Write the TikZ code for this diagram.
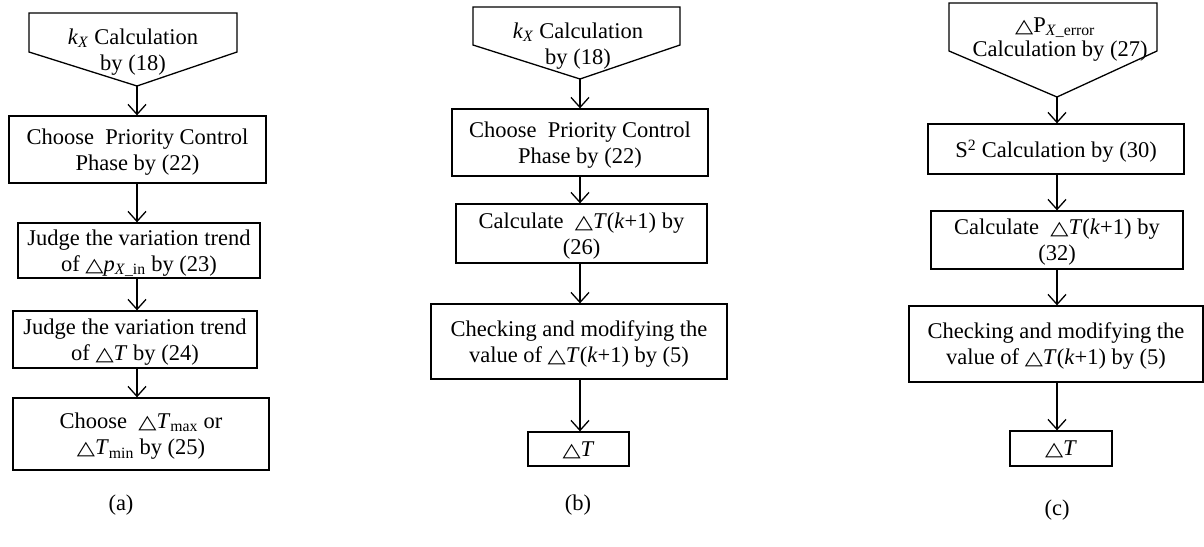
\documentclass[tikz,border=0pt]{standalone}
\usepackage{fontspec}
\setmainfont{Liberation Serif}
\newfontfamily\symfont{DejaVu Sans}
\usetikzlibrary{arrows.meta}
\newcommand{\tri}{{\symfont\scalebox{1.05}[0.85]{△}}}
\begin{document}
\begin{tikzpicture}[x=1pt,y=-1pt,
  every node/.style={font=\fontsize{22.5}{26}\selectfont},
  stepbox/.style={draw, line width=1.3pt, align=center, inner sep=0pt, text depth=0pt},
  pent/.style={draw, line width=1.3pt, line join=miter},
  arr/.style={line width=1.3pt, -{Straight Barb[length=10pt,width=18pt]}}]
\useasboundingbox (0,0) rectangle (1204,546);

% ---------- panel (a)
\draw[pent] (29,13) -- (237,13) -- (237,52) -- (137,86) -- (29,52) -- cycle;
\coordinate (pa) at (137,86);
\node[align=center] (pat) at (133,52) {\textit{k}\textsubscript{\textit{X}} Calculation\\by (18)};
\node[stepbox, minimum width=257pt, minimum height=67pt] (a1) at (137.5,149.5) {Choose\ \ Priority Control\\Phase by (22)};
\node[stepbox, minimum width=242pt, minimum height=55pt] (a2) at (139,250.5) {Judge the variation trend\\of \tri\textit{p}\textsubscript{\textit{X}\_in} by (23)};
\node[stepbox, minimum width=244pt, minimum height=57pt] (a3) at (135,339.5) {Judge the variation trend\\of \tri\textit{T} by (24)};
\node[stepbox, minimum width=256pt, minimum height=72pt] (a4) at (141,434) {Choose\ \ \tri\textit{T}\textsubscript{max} or\\\tri\textit{T}\textsubscript{min} by (25)};
\node (la) at (121,505) {(a)};
\draw[arr] (pa) -- (a1.north -| pa);
\draw[arr] (a1.south -| pa) -- (a2.north -| pa);
\draw[arr] (a2.south -| pa) -- (a3.north -| pa);
\draw[arr] (a3.south -| pa) -- (a4.north -| pa);

% ---------- panel (b)
\draw[pent] (473,7) -- (680,7) -- (680,45) -- (580,79) -- (473,45) -- cycle;
\coordinate (pb) at (580,79);
\node[align=center] (pbt) at (578,46) {\textit{k}\textsubscript{\textit{X}} Calculation\\by (18)};
\node[stepbox, minimum width=256pt, minimum height=67pt] (b1) at (580,142.5) {Choose\ \ Priority Control\\Phase by (22)};
\node[stepbox, minimum width=251pt, minimum height=59pt] (b2) at (581.5,233.5) {Calculate\ \ \tri\textit{T}(\textit{k}+1) by\\(26)};
\node[stepbox, minimum width=296pt, minimum height=75pt] (b3) at (579,341.5) {Checking and modifying the\\value of \tri\textit{T}(\textit{k}+1) by (5)};
\node[stepbox, minimum width=101pt, minimum height=34pt] (b4) at (578.5,449) {\tri\textit{T}};
\node (lb) at (578,505) {(b)};
\draw[arr] (pb) -- (b1.north -| pb);
\draw[arr] (b1.south -| pb) -- (b2.north -| pb);
\draw[arr] (b2.south -| pb) -- (b3.north -| pb);
\draw[arr] (b3.south -| pb) -- (b4.north -| pb);

% ---------- panel (c)
\draw[pent] (949,3) -- (1157,3) -- (1157,51) -- (1057,97) -- (949,51) -- cycle;
\coordinate (pc) at (1057,97);
\node (pct1) at (1055,28) {\tri P\textsubscript{\textit{X}\_error}};
\node (pct2) at (1060,51) {Calculation by (27)};
\node[stepbox, minimum width=256pt, minimum height=50pt] (c1) at (1056,149) {S\textsuperscript{2} Calculation by (30)};
\node[stepbox, minimum width=252pt, minimum height=58pt] (c2) at (1057,240) {Calculate\ \ \tri\textit{T}(\textit{k}+1) by\\(32)};
\node[stepbox, minimum width=294pt, minimum height=76pt] (c3) at (1056,344) {Checking and modifying the\\value of \tri\textit{T}(\textit{k}+1) by (5)};
\node[stepbox, minimum width=102pt, minimum height=35pt] (c4) at (1061,448.5) {\tri\textit{T}};
\node (lc) at (1057,510) {(c)};
\draw[arr] (pc) -- (c1.north -| pc);
\draw[arr] (c1.south -| pc) -- (c2.north -| pc);
\draw[arr] (c2.south -| pc) -- (c3.north -| pc);
\draw[arr] (c3.south -| pc) -- (c4.north -| pc);
\end{tikzpicture}
\end{document}
